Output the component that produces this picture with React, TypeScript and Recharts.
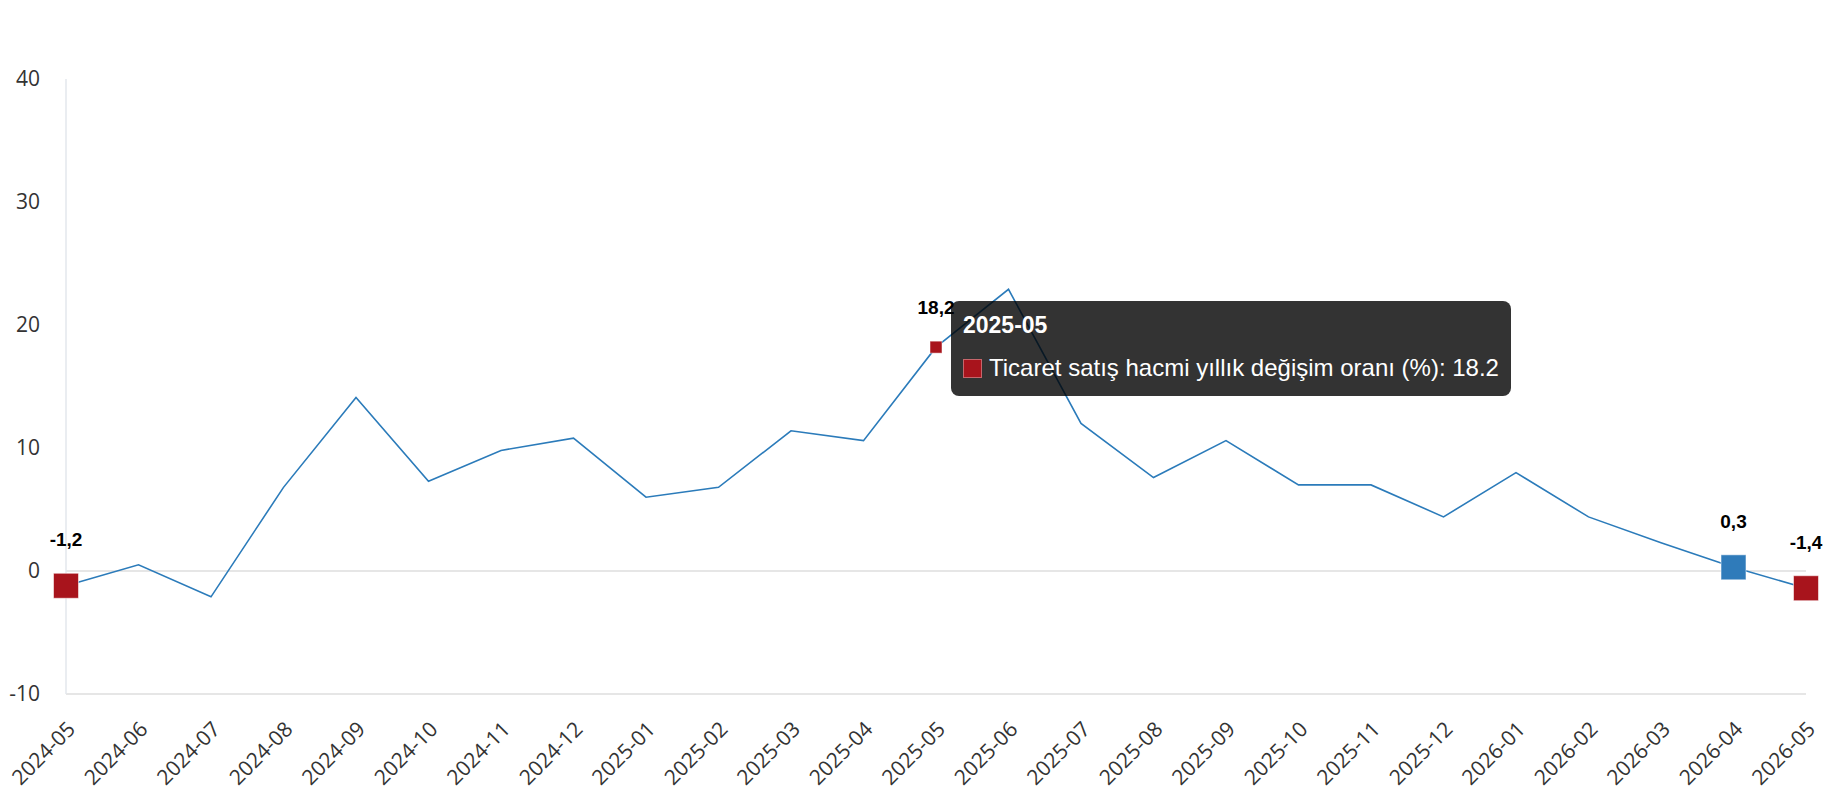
import React from 'react';
import { LineChart, Line, XAxis, YAxis, ReferenceLine, Tooltip } from 'recharts';

const months = [
  '2024-05', '2024-06', '2024-07', '2024-08', '2024-09', '2024-10', '2024-11', '2024-12',
  '2025-01', '2025-02', '2025-03', '2025-04', '2025-05', '2025-06', '2025-07', '2025-08',
  '2025-09', '2025-10', '2025-11', '2025-12', '2026-01', '2026-02', '2026-03', '2026-04', '2026-05',
];
const values = [
  -1.2, 0.5, -2.1, 6.8, 14.1, 7.3, 9.8, 10.8,
  6.0, 6.8, 11.4, 10.6, 18.2, 22.9, 12.0, 7.6,
  10.6, 7.0, 7.0, 4.4, 8.0, 4.4, 2.3, 0.3, -1.4,
];
const yTicks = [-10, 0, 10, 20, 30, 40];
const seriesName = 'Ticaret satış hacmi yıllık değişim oranı (%)';
const redMarkerMonths = ['2024-05', '2026-05'];
const blueMarkerMonths = ['2026-04'];
const labelledMonths = ['2024-05', '2025-05', '2026-04', '2026-05'];
const hoveredMonth = '2025-05';

const data = months.map((m, i) => ({ month: m, value: values[i] }));
const hoveredIndex = months.indexOf(hoveredMonth);

const RED = '#a8141c';
const BLUE = '#2f7bba';
const LINE = '#2b7bba';
const BIG = 25;
const SMALL = 12;

const fmt = (v: number) => String(v).replace('.', ',');

const labelText = (cx: number, cy: number, size: number, v: number, key: string) => (
  <text
    key={key + '-l'}
    x={cx}
    y={cy - size / 2 - 27}
    textAnchor="middle"
    fontFamily="'Liberation Sans', Arial, sans-serif"
    fontWeight="bold"
    fontSize={19}
    fill="#000"
  >
    {fmt(v)}
  </text>
);

const renderDot = (props: any) => {
  const { cx, cy, payload, index } = props;
  const m = payload.month;
  const isRed = redMarkerMonths.includes(m);
  const isBlue = blueMarkerMonths.includes(m);
  const hasLabel = labelledMonths.includes(m);
  if (!isRed && !isBlue && !hasLabel) return <g key={'d' + index} />;
  const size = isRed || isBlue ? BIG : SMALL;
  return (
    <g key={'d' + index}>
      {(isRed || isBlue) && (
        <rect
          x={cx - size / 2}
          y={cy - size / 2}
          width={size}
          height={size}
          fill={isRed ? RED : BLUE}
          stroke="rgba(255,255,255,0.55)"
          strokeWidth={1}
        />
      )}
      {hasLabel && labelText(cx, cy, size, payload.value, 'd' + index)}
    </g>
  );
};

const renderActiveDot = (props: any) => {
  const { cx, cy } = props;
  return (
    <rect
      x={cx - SMALL / 2}
      y={cy - SMALL / 2}
      width={SMALL}
      height={SMALL}
      fill={RED}
      stroke="rgba(255,255,255,0.5)"
      strokeWidth={1}
    />
  );
};

const TooltipBox = (props: any) => {
  const { active, payload, label } = props;
  if (!active || !payload || !payload.length) return null;
  return (
    <div
      style={{
        background: 'rgba(0,0,0,0.8)',
        borderRadius: 8,
        padding: '11px 12px 14px 12px',
        color: '#fff',
        fontFamily: "'Liberation Sans', Arial, sans-serif",
        whiteSpace: 'nowrap',
      }}
    >
      <div style={{ fontWeight: 'bold', fontSize: 23, lineHeight: '26px', marginBottom: 16 }}>{label}</div>
      <div style={{ fontSize: 24, lineHeight: '28px', display: 'flex', alignItems: 'center' }}>
        <span
          style={{
            display: 'inline-block',
            width: 19,
            height: 19,
            background: RED,
            marginRight: 7,
            boxSizing: 'border-box',
            border: '1px solid rgba(255,255,255,0.35)',
          }}
        />
        {payload[0].name}: {payload[0].value}
      </div>
    </div>
  );
};

export default function App() {
  return (
    <div style={{ position: 'absolute', left: 0, top: 0, width: 1830, height: 800, background: '#fff' }}>
      <LineChart width={1830} height={800} data={data} margin={{ top: 79, right: 24, bottom: 0, left: 0 }}>
        <XAxis
          dataKey="month"
          interval={0}
          angle={-45}
          textAnchor="end"
          tickSize={0}
          tickMargin={26}
          height={106}
          stroke="#e6e6e6"
          strokeWidth={2}
          tick={{ fill: '#333', fontSize: 21, fontFamily: "'Open Sans', sans-serif" }}
        />
        <YAxis
          domain={[-10, 40]}
          ticks={yTicks}
          width={66}
          tickLine={false}
          tickSize={0}
          tickMargin={26}
          stroke="#e3e7ec"
          strokeWidth={1.5}
          tick={{ fill: '#333', fontSize: 21, fontFamily: "'Open Sans', sans-serif" }}
        />
        <ReferenceLine y={0} stroke="#e6e6e6" strokeWidth={2} />
        <Tooltip
          defaultIndex={hoveredIndex}
          content={<TooltipBox />}
          cursor={false}
          isAnimationActive={false}
          offset={15}
          position={{ y: 301 }}
        />
        <Line
          type="linear"
          dataKey="value"
          name={seriesName}
          stroke={LINE}
          strokeWidth={1.6}
          dot={renderDot}
          activeDot={renderActiveDot}
          isAnimationActive={false}
        />
      </LineChart>
    </div>
  );
}
